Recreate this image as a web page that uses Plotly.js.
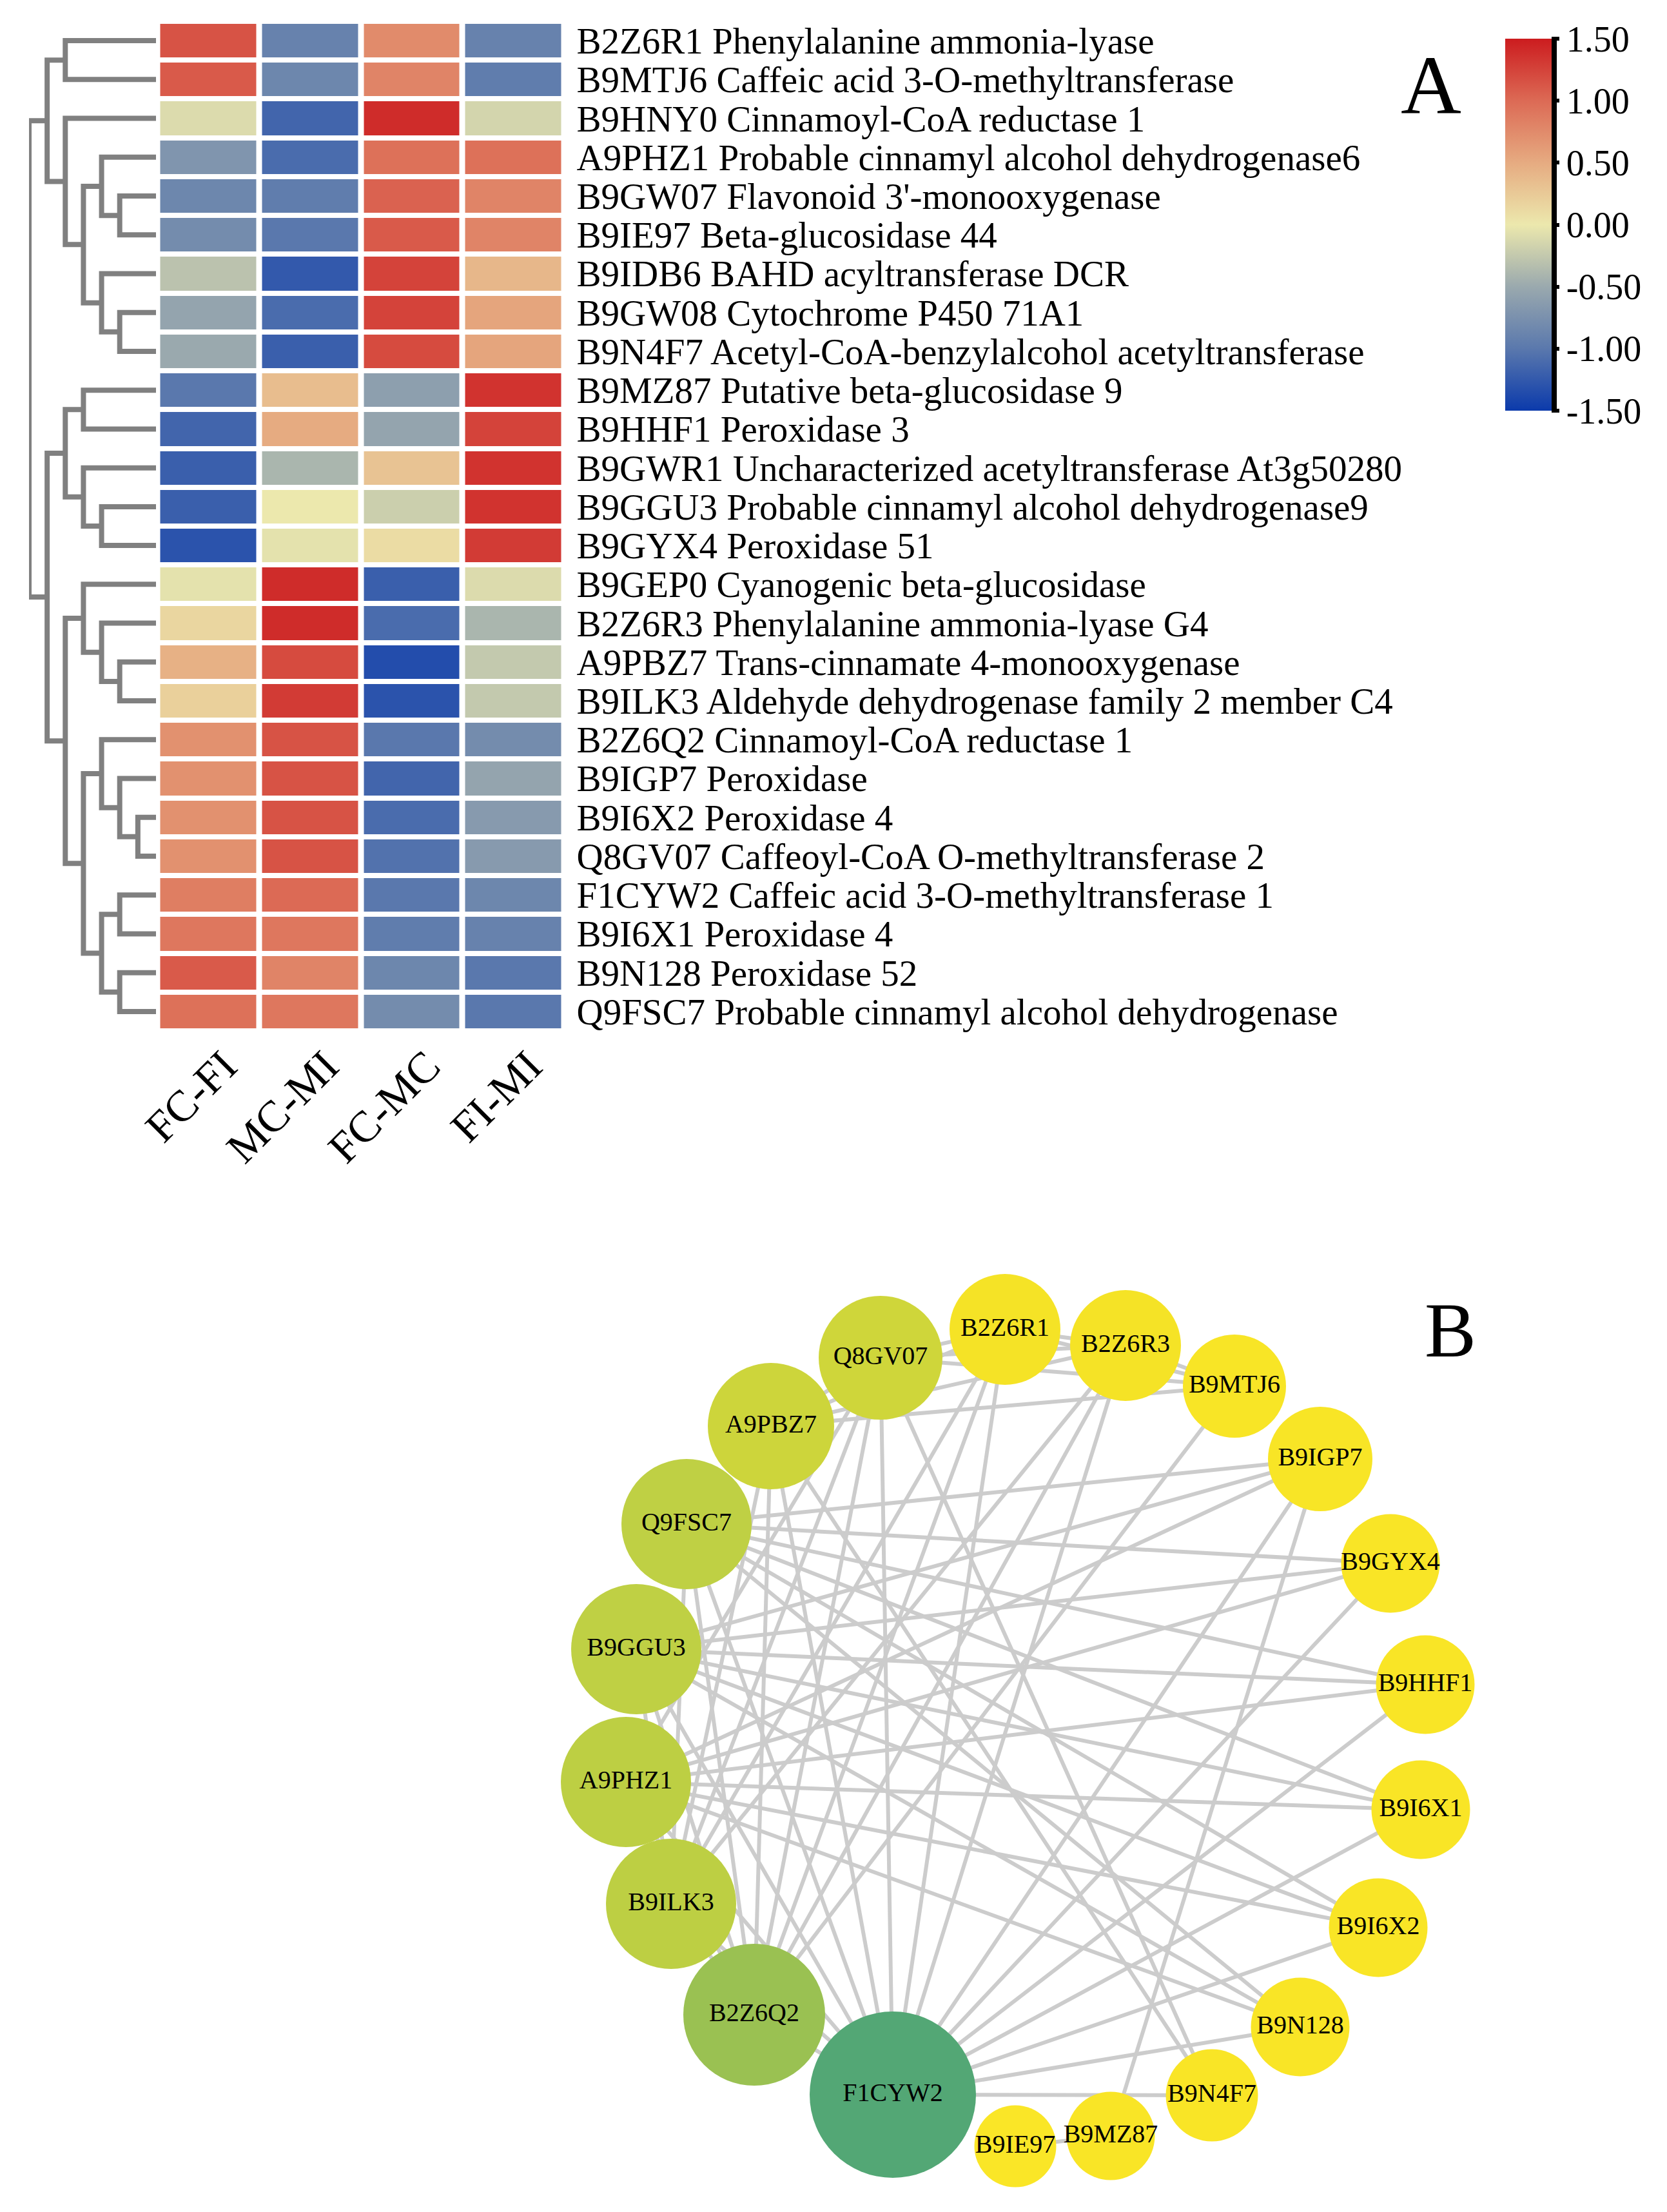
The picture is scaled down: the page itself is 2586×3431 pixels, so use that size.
<!DOCTYPE html>
<html><head><meta charset="utf-8">
<script src="https://cdn.plot.ly/plotly-3.0.1.min.js"></script>
<style>html,body{margin:0;padding:0;background:#fff;}</style>
</head><body>
<div id="chart" style="width:2586px;height:3431px;"></div>
<script>
// ---------------- DATA ----------------
const comparisons = ['FC-FI', 'MC-MI', 'FC-MC', 'FI-MI'];
const genes = [
  'B2Z6R1 Phenylalanine ammonia-lyase',
  'B9MTJ6 Caffeic acid 3-O-methyltransferase',
  'B9HNY0 Cinnamoyl-CoA reductase 1',
  'A9PHZ1 Probable cinnamyl alcohol dehydrogenase6',
  "B9GW07 Flavonoid 3'-monooxygenase",
  'B9IE97 Beta-glucosidase 44',
  'B9IDB6 BAHD acyltransferase DCR',
  'B9GW08 Cytochrome P450 71A1',
  'B9N4F7 Acetyl-CoA-benzylalcohol acetyltransferase',
  'B9MZ87 Putative beta-glucosidase 9',
  'B9HHF1 Peroxidase 3',
  'B9GWR1 Uncharacterized acetyltransferase At3g50280',
  'B9GGU3 Probable cinnamyl alcohol dehydrogenase9',
  'B9GYX4 Peroxidase 51',
  'B9GEP0 Cyanogenic beta-glucosidase',
  'B2Z6R3 Phenylalanine ammonia-lyase G4',
  'A9PBZ7 Trans-cinnamate 4-monooxygenase',
  'B9ILK3 Aldehyde dehydrogenase family 2 member C4',
  'B2Z6Q2 Cinnamoyl-CoA reductase 1',
  'B9IGP7 Peroxidase',
  'B9I6X2 Peroxidase 4',
  'Q8GV07 Caffeoyl-CoA O-methyltransferase 2',
  'F1CYW2 Caffeic acid 3-O-methyltransferase 1',
  'B9I6X1 Peroxidase 4',
  'B9N128 Peroxidase 52',
  'Q9FSC7 Probable cinnamyl alcohol dehydrogenase'
];
const fcFi = [1.15, 1.10, -0.10, -0.70, -0.85, -0.80, -0.30, -0.55, -0.50, -1.00, -1.15, -1.20, -1.20, -1.30,
              -0.05, 0.15, 0.45, 0.20, 0.70, 0.70, 0.70, 0.70, 0.85, 0.90, 1.10, 0.95];
const mcMi = [-0.90, -0.85, -1.15, -1.10, -0.95, -1.00, -1.25, -1.10, -1.20, 0.35, 0.50, -0.40, 0.00, -0.05,
              1.40, 1.40, 1.20, 1.30, 1.15, 1.15, 1.15, 1.15, 1.00, 0.90, 0.80, 0.90];
const fcMc = [0.75, 0.80, 1.40, 0.95, 1.05, 1.10, 1.25, 1.25, 1.20, -0.60, -0.55, 0.30, -0.20, 0.10,
              -1.20, -1.10, -1.35, -1.30, -1.00, -1.15, -1.10, -1.05, -1.00, -0.95, -0.85, -0.80];
const fiMi = [-0.90, -0.95, -0.15, 0.95, 0.80, 0.80, 0.40, 0.55, 0.55, 1.35, 1.25, 1.35, 1.35, 1.30,
              -0.10, -0.40, -0.25, -0.25, -0.80, -0.55, -0.65, -0.65, -0.85, -0.90, -1.00, -1.00];
const colorTicks = [-1.5, -1.0, -0.5, 0.0, 0.5, 1.0, 1.5];

// Row dendrogram: [childA, childB, mergeHeight]; leaves are row indices 0..25, merges get ids 26, 27, ...
const dendroMerges = [
  [0, 1, 5],    // 26
  [4, 5, 2],    // 27
  [3, 27, 3],   // 28
  [7, 8, 2],    // 29
  [6, 29, 3],   // 30
  [28, 30, 4],  // 31
  [2, 31, 5],   // 32
  [26, 32, 6],  // 33
  [9, 10, 4],   // 34
  [12, 13, 3],  // 35
  [11, 35, 4],  // 36
  [34, 36, 5],  // 37
  [16, 17, 2],  // 38
  [15, 38, 3],  // 39
  [14, 39, 4],  // 40
  [20, 21, 1],  // 41
  [19, 41, 2],  // 42
  [18, 42, 3],  // 43
  [22, 23, 2],  // 44
  [24, 25, 2],  // 45
  [44, 45, 3],  // 46
  [43, 46, 4],  // 47
  [40, 47, 5],  // 48
  [37, 48, 6],  // 49
  [33, 49, 7]   // 50
];

// Network
const nodeNames = ['Q8GV07', 'B2Z6R1', 'B2Z6R3', 'B9MTJ6', 'B9IGP7', 'B9GYX4', 'B9HHF1', 'B9I6X1', 'B9I6X2', 'B9N128',
                   'B9N4F7', 'B9MZ87', 'B9IE97', 'F1CYW2', 'B2Z6Q2', 'B9ILK3', 'A9PHZ1', 'B9GGU3', 'Q9FSC7', 'A9PBZ7'];
const edges = [
  ['B9IGP7','Q9FSC7'], ['B9IGP7','B9GGU3'], ['B9IGP7','A9PHZ1'], ['B9IGP7','F1CYW2'],
  ['B9GYX4','Q9FSC7'], ['B9GYX4','B9GGU3'], ['B9GYX4','A9PHZ1'], ['B9GYX4','F1CYW2'],
  ['B9HHF1','Q9FSC7'], ['B9HHF1','B9GGU3'], ['B9HHF1','A9PHZ1'], ['B9HHF1','F1CYW2'],
  ['B9I6X1','Q9FSC7'], ['B9I6X1','B9GGU3'], ['B9I6X1','A9PHZ1'], ['B9I6X1','F1CYW2'],
  ['B9I6X2','Q9FSC7'], ['B9I6X2','B9GGU3'], ['B9I6X2','A9PHZ1'], ['B9I6X2','F1CYW2'],
  ['B9N128','Q9FSC7'], ['B9N128','B9GGU3'], ['B9N128','A9PHZ1'], ['B9N128','F1CYW2'],
  ['B9IGP7','B9MZ87'], ['B9MZ87','B9IE97'],
  ['B9N4F7','F1CYW2'], ['B9N4F7','Q8GV07'], ['B9N4F7','A9PBZ7'],
  ['B9MTJ6','B2Z6R3'], ['B9MTJ6','A9PBZ7'], ['B9MTJ6','B2Z6Q2'], ['B9MTJ6','Q8GV07'], ['B9MTJ6','B2Z6R1'],
  ['B2Z6R3','B9ILK3'], ['B2Z6R3','B2Z6Q2'], ['B2Z6R3','F1CYW2'], ['B2Z6R3','B2Z6R1'], ['B2Z6R3','Q8GV07'], ['B2Z6R3','A9PBZ7'],
  ['B2Z6R1','Q8GV07'], ['B2Z6R1','A9PBZ7'], ['B2Z6R1','F1CYW2'], ['B2Z6R1','B2Z6Q2'], ['B2Z6R1','B9ILK3'],
  ['F1CYW2','B2Z6Q2'], ['F1CYW2','B9ILK3'], ['F1CYW2','A9PBZ7'], ['F1CYW2','Q8GV07'],
  ['F1CYW2','Q9FSC7'], ['F1CYW2','B9GGU3'], ['F1CYW2','A9PHZ1'],
  ['B2Z6Q2','B9ILK3'], ['B2Z6Q2','A9PHZ1'], ['B2Z6Q2','B9GGU3'], ['B2Z6Q2','Q9FSC7'], ['B2Z6Q2','A9PBZ7'], ['B2Z6Q2','Q8GV07'],
  ['B9ILK3','A9PBZ7'], ['B9ILK3','Q8GV07'], ['B9ILK3','Q9FSC7'], ['B9ILK3','B9GGU3'],
  ['A9PBZ7','Q8GV07'], ['A9PHZ1','Q8GV07']
];

// ---------------- LAYOUT / STYLE ----------------
const W = 2586, H = 3431;
const FONT = 'Liberation Serif, Times New Roman, serif';
// circular network layout (pixel positions of node centres)
const nodeX = [1366, 1559, 1746, 1915, 2048, 2157, 2211, 2204, 2138, 2017, 1880, 1723, 1575, 1385, 1170, 1041, 971, 987, 1065, 1196];
const nodeY = [2106, 2062, 2087, 2150, 2263, 2425, 2613, 2807, 2990, 3144, 3250, 3313, 3329, 3249, 3125, 2953, 2764, 2558, 2364, 2212];
const nodeDiameter = [192, 172, 172, 160, 162, 153, 153, 153, 153, 153, 143, 137, 127, 258, 220, 202, 202, 202, 202, 196];
const nodeColor = ['#CFD63A', '#F5E326', '#F5E326', '#F8E526', '#F8E526', '#F9E526', '#F9E526', '#F9E526', '#F9E526', '#F9E526',
                   '#F9E526', '#F9E526', '#FAE627', '#53A775', '#9AC152', '#BDCF43', '#BDCF43', '#BFD044', '#BFD044', '#CDD53B'];

const heatColors = [
  [0.0, '#0b3aab'], [1/6, '#5a78ad'], [2/6, '#9aa9ae'], [0.5, '#ece8ad'],
  [4/6, '#e6ab81'], [5/6, '#dc6a55'], [1.0, '#cc1c1f']
];

// heatmap matrix built from the column arrays
const z = genes.map((g, i) => [fcFi[i], mcMi[i], fcMc[i], fiMi[i]]);
const rowIdx = genes.map((g, i) => i);
const colIdx = comparisons.map((c, i) => i);

// dendrogram segments
const pos = rowIdx.slice();
const hgt = rowIdx.map(() => 0);
const dx = [], dy = [];
dendroMerges.forEach(([a, b, h]) => {
  dx.push(hgt[a], h, h, hgt[b], null);
  dy.push(pos[a], pos[a], pos[b], pos[b], null);
  pos.push((pos[a] + pos[b]) / 2);
  hgt.push(h);
});

// network edges
const ex = [], ey = [];
edges.forEach(([a, b]) => {
  const i = nodeNames.indexOf(a), j = nodeNames.indexOf(b);
  ex.push(nodeX[i], nodeX[j], null);
  ey.push(nodeY[i], nodeY[j], null);
});

const traces = [
  {
    type: 'heatmap', z: z, x: colIdx, y: rowIdx, xaxis: 'x', yaxis: 'y',
    colorscale: heatColors, zmin: -1.5, zmax: 1.5, xgap: 9, ygap: 8, hoverinfo: 'skip',
    colorbar: {
      x: 2335 / W, xanchor: 'left', xref: 'paper', xpad: 0,
      y: 1 - 60 / H, yanchor: 'top', yref: 'paper', ypad: 0,
      len: 577, lenmode: 'pixels', thickness: 72, thicknessmode: 'pixels',
      outlinewidth: 0, tickvals: colorTicks, ticktext: colorTicks.map(v => v.toFixed(2)),
      ticks: 'outside', ticklen: 12, tickwidth: 6, tickcolor: '#000',
      tickfont: { family: FONT, size: 56, color: '#000' }
    }
  },
  {
    type: 'scatter', mode: 'lines', x: dx, y: dy, xaxis: 'x3', yaxis: 'y',
    line: { color: '#808080', width: 8 }, hoverinfo: 'skip', showlegend: false
  },
  {
    type: 'scatter', mode: 'lines', x: ex, y: ey, xaxis: 'x2', yaxis: 'y2',
    line: { color: '#CCCCCC', width: 6 }, hoverinfo: 'skip', showlegend: false
  },
  {
    type: 'scatter', mode: 'markers+text', x: nodeX, y: nodeY, xaxis: 'x2', yaxis: 'y2',
    text: nodeNames, textposition: 'middle center',
    textfont: { family: FONT, size: 40, color: '#000' },
    marker: { size: nodeDiameter, color: nodeColor, line: { width: 0 }, opacity: 1 },
    hoverinfo: 'skip', showlegend: false, cliponaxis: false
  }
];

const layout = {
  width: W, height: H, margin: { l: 0, r: 0, t: 0, b: 0, pad: 0 },
  paper_bgcolor: '#fff', plot_bgcolor: 'rgba(0,0,0,0)', showlegend: false,
  font: { family: FONT, color: '#000' },
  xaxis: {
    domain: [244.5 / W, 875.5 / W], range: [-0.5, 3.5], anchor: 'y',
    tickvals: colIdx, ticktext: comparisons, tickangle: -45, ticklabelshift: 24,
    tickfont: { family: FONT, size: 68, color: '#000' },
    showgrid: false, zeroline: false, showline: false, ticks: '', fixedrange: true
  },
  yaxis: {
    domain: [1 - 1599 / H, 1 - 33 / H], range: [25.5, -0.5], anchor: 'x', side: 'right',
    tickvals: rowIdx, ticktext: genes, ticklabelstandoff: 18,
    tickfont: { family: FONT, size: 57, color: '#000' },
    showgrid: false, zeroline: false, showline: false, ticks: '', fixedrange: true
  },
  xaxis3: {
    domain: [45 / W, 242 / W], range: [7, 0], anchor: 'y', visible: false, fixedrange: true
  },
  xaxis2: { domain: [0, 1], range: [0, W], anchor: 'y2', visible: false, fixedrange: true },
  yaxis2: { domain: [0, 1], range: [H, 0], anchor: 'x2', visible: false, fixedrange: true },
  shapes: [
    { type: 'line', xref: 'paper', yref: 'paper', x0: 2411 / W, x1: 2411 / W, y0: 1 - 60 / H, y1: 1 - 637 / H,
      line: { color: '#000', width: 8 } }
  ],
  annotations: [
    { text: 'A', xref: 'paper', yref: 'paper', x: 2220 / W, y: 1 - 132 / H, xanchor: 'center', yanchor: 'middle',
      showarrow: false, font: { family: FONT, size: 130, color: '#000' } },
    { text: 'B', xref: 'paper', yref: 'paper', x: 2250 / W, y: 1 - 2063 / H, xanchor: 'center', yanchor: 'middle',
      showarrow: false, font: { family: FONT, size: 120, color: '#000' } }
  ]
};

Plotly.newPlot('chart', traces, layout, { staticPlot: true, displayModeBar: false });
</script>
</body></html>
